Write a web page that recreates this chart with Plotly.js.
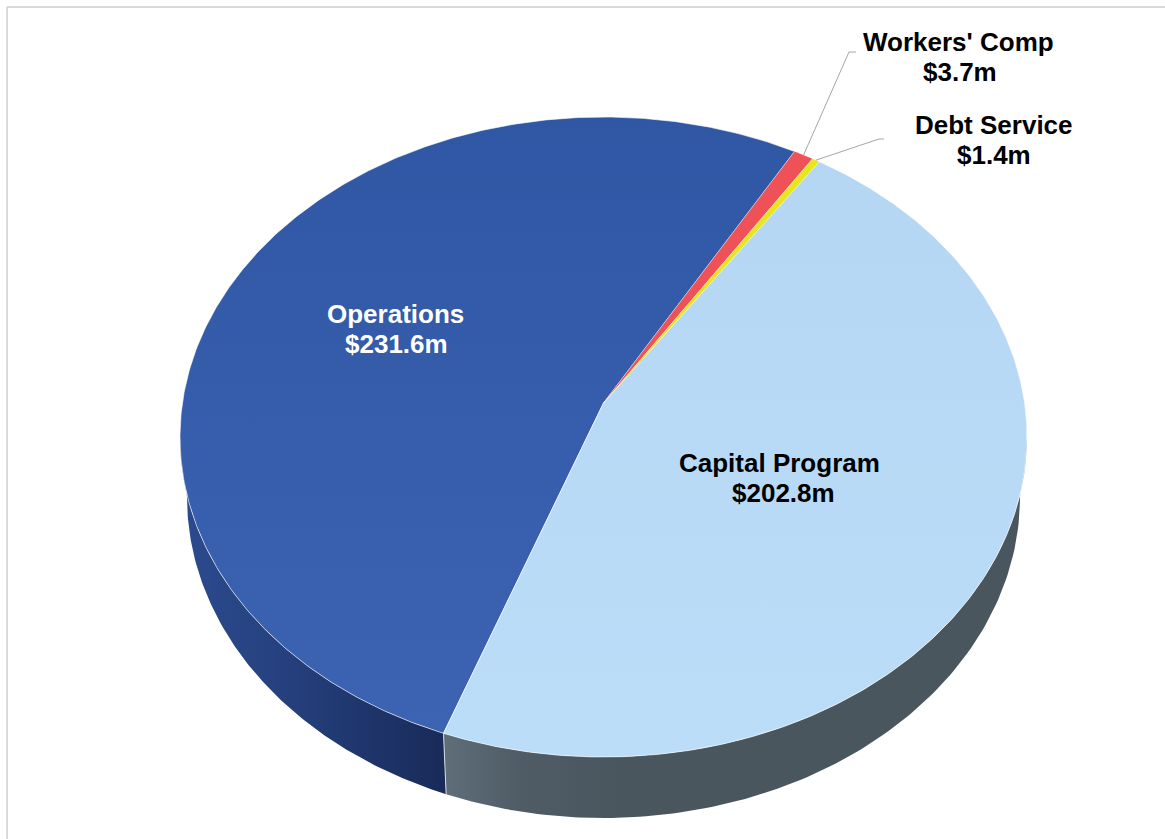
<!DOCTYPE html>
<html>
<head>
<meta charset="utf-8">
<script src="https://cdn.plot.ly/plotly-3.0.1.min.js"></script>
<style>html,body{margin:0;padding:0;background:#fff}#chart{width:1165px;height:839px}</style>
</head>
<body>
<div id="chart"></div>
<script>
const categories = ["Operations", "Workers' Comp", "Debt Service", "Capital Program"];
const amounts = [231.6, 3.7, 1.4, 202.8];
const faceTop = ["#2f57a4", "#ef5158", "#e6e620", "#b4d6f3"];
const faceBottom = ["#3c64b3", "#ef5158", "#e6e620", "#bbddf8"];
const labelColors = ["#ffffff", "#000000", "#000000", "#000000"];
const nameAnchors = [[395.5, 314], [958.5, 42], [993.5, 125], [779, 463]];
const valueAnchors = [[396, 344], [959.5, 72], [994, 155], [783, 493]];
const leaderBends = [null, [[849, 52], [856, 52]], [[879, 139], [884, 139]], null];

// Projection of the tilted pie: a circle seen in perspective.
const top_ = {cx: 603.5, cy: 437, a: 423.5, b: 320};
const low_ = {cx: 603.5, cy: 497, a: 416.5, b: 321};
const k = 0.10625;           // apex offset toward the far rim
const firstAngle = 200;      // degrees clockwise from twelve o'clock
const total = amounts.reduce((s, v) => s + v, 0);

function unit(clockDeg) {
  const t = (90 - clockDeg) * Math.PI / 180, d = 1 + k * Math.sin(t);
  return [Math.cos(t) * Math.sqrt(1 - k * k) / d, (Math.sin(t) + k) / d];
}
const place = (u, e) => [e.cx + e.a * u[0], e.cy - e.b * u[1]];
function range(a, b, n) { const r = []; for (let i = 0; i <= n; i++) r.push(a + (b - a) * i / n); return r; }

const traces = [];
let acc = firstAngle;
const spans = amounts.map(v => { const s = [acc, acc + v / total * 360]; acc = s[1]; return s; });

// Side wall
const boundaryU = unit(spans[0][0]);
const boundaryPhi = Math.atan2(boundaryU[1], boundaryU[0]) + 2 * Math.PI; // just past 180 deg
function wall(phi0, phi1, gradient, start, stop) {
  const phis = range(phi0, phi1, 120);
  const lo = phis.map(p => place([Math.cos(p), Math.sin(p)], low_));
  const hi = phis.slice().reverse().map(p => place([Math.cos(p), Math.sin(p)], top_));
  const pts = lo.concat(hi);
  pts.push(pts[0]);
  traces.push({type: "scatter", mode: "lines", x: pts.map(p => p[0]), y: pts.map(p => p[1]),
    fill: "toself", line: {width: 0, color: "rgba(0,0,0,0)"},
    fillgradient: {type: "horizontal", colorscale: gradient, start: start, stop: stop},
    hoverinfo: "skip", showlegend: false});
}
wall(Math.PI, boundaryPhi, [[0, "#2b4a8d"], [0.45, "#243e7a"], [1, "#182a58"]], 188, 447);
wall(boundaryPhi, 2 * Math.PI, [[0, "#5f6d79"], [0.13, "#4f5c66"], [0.3, "#4a565e"], [1, "#4a565e"]], 447, 1020);
const sepA = place(boundaryU, top_), sepB = place(boundaryU, low_);
traces.push({type: "scatter", mode: "lines", x: [sepA[0], sepB[0]], y: [sepA[1], sepB[1]],
  line: {width: 1, color: "rgba(225,230,235,0.9)"}, hoverinfo: "skip", showlegend: false});

// Top face
const apex = place([0, k], top_);
[0, 3, 1, 2].forEach(i => {
  const rim = range(spans[i][0], spans[i][1], Math.max(8, Math.ceil(spans[i][1] - spans[i][0]) * 2))
    .map(c => place(unit(c), top_));
  const pts = [apex].concat(rim, [apex]);
  const thin = amounts[i] / total < 0.02;
  traces.push({type: "scatter", mode: "lines", name: categories[i],
    x: pts.map(p => p[0]), y: pts.map(p => p[1]), fill: "toself",
    line: {width: thin ? 0.4 : 1, color: "rgba(255,255,255,0.6)"},
    fillgradient: {type: "vertical", colorscale: [[0, faceTop[i]], [1, faceBottom[i]]], start: 117, stop: 757},
    hoverinfo: "name", showlegend: false});
});

// Leader lines for the two thin slices
leaderBends.forEach((bend, i) => {
  if (!bend) return;
  const s = place(unit((spans[i][0] + spans[i][1]) / 2), top_);
  const pts = [s].concat(bend);
  traces.push({type: "scatter", mode: "lines", x: pts.map(p => p[0]), y: pts.map(p => p[1]),
    line: {width: 1, color: "#a6a6a6"}, hoverinfo: "skip", showlegend: false});
});

const labelFont = i => ({family: "Liberation Sans, Arial, sans-serif", size: 26, color: labelColors[i], weight: 700});
const annotation = (text, at, i) => ({text: text, x: at[0], y: at[1], xref: "x", yref: "y",
  xanchor: "center", yanchor: "middle", showarrow: false, align: "center", font: labelFont(i)});
const annotations = [];
categories.forEach((c, i) => {
  annotations.push(annotation(c, nameAnchors[i], i));
  annotations.push(annotation("$" + amounts[i].toFixed(1) + "m", valueAnchors[i], i));
});

const frame = {color: "#d9d9d9", width: 2};
const layout = {
  width: 1165, height: 839, margin: {l: 0, r: 0, t: 0, b: 0},
  paper_bgcolor: "#ffffff", plot_bgcolor: "#ffffff",
  xaxis: {range: [0, 1165], visible: false, fixedrange: true},
  yaxis: {range: [839, 0], visible: false, fixedrange: true},
  showlegend: false, annotations: annotations,
  shapes: [
    {type: "line", xref: "x", yref: "y", x0: 7, x1: 7, y0: 7, y1: 839, line: frame, layer: "below"},
    {type: "line", xref: "x", yref: "y", x0: 7, x1: 1165, y0: 7, y1: 7, line: frame, layer: "below"}
  ]
};
Plotly.newPlot("chart", traces, layout, {displayModeBar: false});
</script>
</body>
</html>
